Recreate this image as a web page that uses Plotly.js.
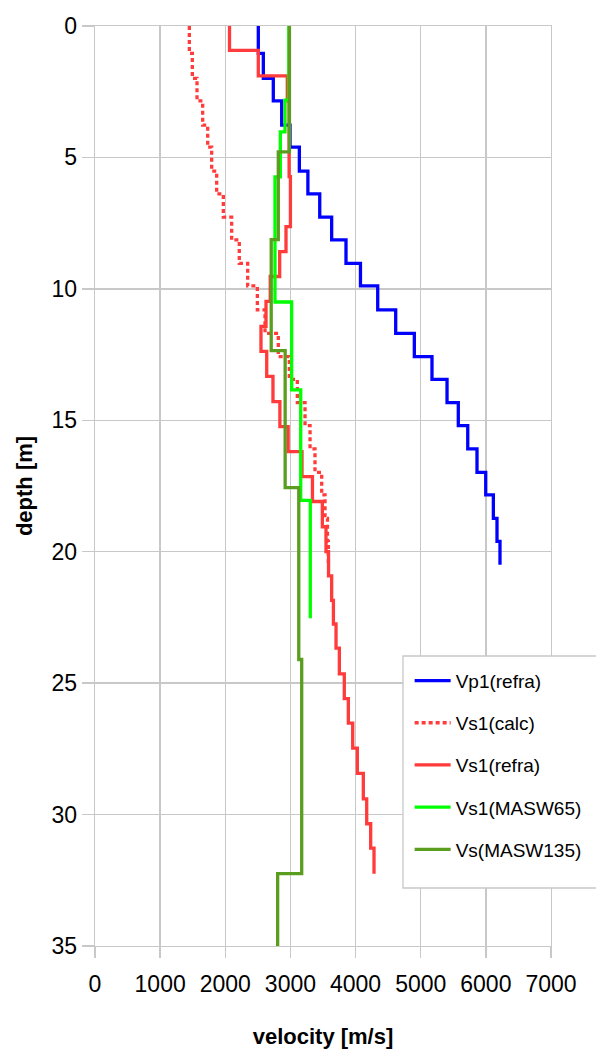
<!DOCTYPE html>
<html>
<head>
<meta charset="utf-8">
<script src="https://cdn.plot.ly/plotly-3.0.1.min.js"></script>
<style>
html,body{margin:0;padding:0;background:#fff;}
#chart{width:596px;height:1051px;}
</style>
</head>
<body>
<div id="chart"></div>
<script>
// Layer boundaries (depth, m) and layer velocities (m/s)
const vp1Depth = [0, 1.04, 1.99, 2.85, 3.77, 4.61, 5.52, 6.39, 7.27, 8.14, 9.03, 9.89, 10.80, 11.69, 12.58, 13.44, 14.33, 15.20, 16.09, 16.98, 17.84, 18.73, 19.61, 20.50];
const vp1Vel = [2507, 2584, 2737, 2866, 2994, 3137, 3268, 3450, 3633, 3853, 4075, 4340, 4616, 4902, 5173, 5404, 5577, 5722, 5864, 5998, 6115, 6171, 6217];

const vs1CalcDepth = [0, 1.04, 1.99, 2.85, 3.77, 4.61, 5.52, 6.39, 7.27, 8.14, 9.03, 9.89, 10.80, 11.69, 12.58, 13.44, 14.33, 15.20, 16.09, 16.98, 17.84, 18.73, 19.61, 20.50];
const vs1CalcVel = [1448, 1494, 1566, 1653, 1730, 1791, 1868, 1970, 2098, 2215, 2344, 2492, 2610, 2814, 2983, 3106, 3224, 3301, 3377, 3480, 3531, 3569, 3582];

const vs1RefraDepth = [0, 0.93, 1.90, 2.85, 3.80, 4.77, 5.73, 6.68, 7.63, 8.58, 9.53, 10.48, 11.43, 12.38, 13.33, 14.29, 15.24, 16.19, 17.14, 18.09, 19.05, 20.00, 20.92, 21.85, 22.75, 23.67, 24.65, 25.59, 26.52, 27.47, 28.43, 29.40, 30.35, 31.28, 32.25];
const vs1RefraVel = [2065, 2507, 2952, 2978, 2978, 2980, 3000, 3000, 2932, 2835, 2690, 2625, 2548, 2636, 2732, 2838, 2965, 3178, 3338, 3490, 3546, 3585, 3633, 3660, 3700, 3751, 3827, 3889, 3956, 4027, 4119, 4171, 4232, 4283];

const masw65Depth = [0, 2.82, 4.03, 5.74, 10.50, 13.84, 18.05, 22.53];
const masw65Vel = [2975, 2917, 2845, 2763, 3019, 3158, 3305];

const masw135Depth = [0, 4.79, 8.13, 12.35, 17.56, 24.10, 32.25, 35];
const masw135Vel = [2985, 2814, 2705, 2919, 3128, 3173, 2804];

const seriesNames = ['Vp1(refra)', 'Vs1(calc)', 'Vs1(refra)', 'Vs1(MASW65)', 'Vs(MASW135)'];
const xTicks = [0, 1000, 2000, 3000, 4000, 5000, 6000, 7000];
const yTicks = [0, 5, 10, 15, 20, 25, 30, 35];

function steps(depth, vel) {
  const x = [], y = [];
  for (let i = 0; i < vel.length; i++) {
    x.push(vel[i]); y.push(depth[i]);
    x.push(vel[i]); y.push(depth[i + 1]);
  }
  return {x, y};
}

const specs = [
  [vp1Depth, vp1Vel, {color: '#0000ff', width: 3.3}],
  [vs1CalcDepth, vs1CalcVel, {color: '#ff3b3b', width: 3.3, dash: '4px,3px'}],
  [vs1RefraDepth, vs1RefraVel, {color: '#ff3b3b', width: 3.3}],
  [masw65Depth, masw65Vel, {color: '#00ff00', width: 3.3}],
  [masw135Depth, masw135Vel, {color: '#5b9e1f', width: 3.3}]
];

const traces = specs.map((s, i) => {
  const st = steps(s[0], s[1]);
  return {
    type: 'scatter', mode: 'lines', x: st.x, y: st.y,
    name: seriesNames[i], legendgroup: 'g' + i,
    line: Object.assign({}, s[2]),
    hoverinfo: 'x+y'
  };
});

const FONT = 'Liberation Sans, Arial, sans-serif';
const GRID = '#c8c8c8';

const layout = {
  width: 596, height: 1051,
  margin: {l: 95, r: 45, t: 26, b: 105, autoexpand: false},
  paper_bgcolor: '#ffffff', plot_bgcolor: '#ffffff',
  font: {family: FONT, color: '#000'},
  showlegend: true,
  xaxis: {
    range: [0, 7000], tickvals: xTicks, ticktext: xTicks.map(String),
    showgrid: true, gridcolor: GRID, gridwidth: 1.3,
    zeroline: false, showline: true, linecolor: GRID, linewidth: 1.3, mirror: true,
    ticks: 'outside', ticklen: 11, tickcolor: GRID, tickwidth: 1.3,
    ticklabelstandoff: 6, automargin: false,
    tickfont: {size: 23, family: FONT, color: '#000'},
    title: {text: 'velocity [m/s]', font: {size: 22, family: FONT, weight: 'bold', color: '#000'}, standoff: 32},
    fixedrange: true
  },
  yaxis: {
    range: [35, 0], tickvals: yTicks, ticktext: yTicks.map(String),
    showgrid: true, gridcolor: GRID, gridwidth: 1.3,
    zeroline: false, showline: true, linecolor: GRID, linewidth: 1.3, mirror: true,
    ticks: 'outside', ticklen: 12, tickcolor: GRID, tickwidth: 1.3, automargin: false,
    tickfont: {size: 23, family: FONT, color: '#000'},
    title: {text: 'depth [m]', font: {size: 22, family: FONT, weight: 'bold', color: '#000'}, standoff: 12},
    fixedrange: true
  },
  legend: {
    x: 0.69, y: 0.309, xanchor: 'left', yanchor: 'top',
    bgcolor: 'rgba(0,0,0,0)', borderwidth: 0,
    font: {size: 19, family: FONT, color: '#000'},
    traceorder: 'grouped', tracegroupgap: 14.5, itemwidth: 36
  },
  shapes: [{
    type: 'rect', xref: 'paper', yref: 'paper',
    x0: (403 - 95) / 456, x1: (620 - 95) / 456,
    y0: (946 - 888) / 920, y1: (946 - 656) / 920,
    line: {color: GRID, width: 1.3}, fillcolor: '#ffffff', layer: 'above'
  }]
};

Plotly.newPlot('chart', traces, layout, {displayModeBar: false, staticPlot: true});
</script>
</body>
</html>
